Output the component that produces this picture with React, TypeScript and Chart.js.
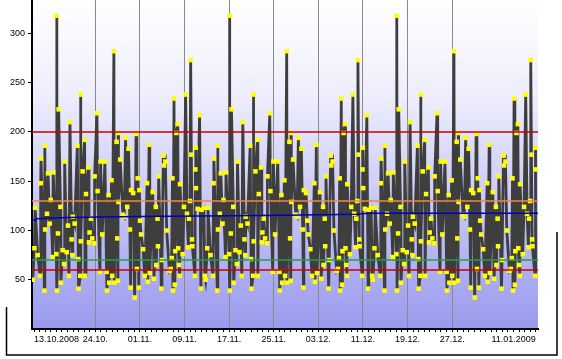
import { useEffect, useRef } from 'react';
import { Chart, registerables } from 'chart.js';

Chart.register(...registerables);

// Values repeat by day of month; each entry: fractional day of month -> value
const patternDays = [
  1.03, 1.21, 1.57, 1.87, 2.28, 2.4, 2.64, 2.76, 3.3, 3.53, 3.85, 3.93, 4.15, 4.23, 4.37, 4.85, 4.95,
  5.2, 5.32, 5.56, 5.8, 6.28, 6.52, 6.7, 6.83, 6.92, 7.11, 7.25, 7.33, 7.53, 7.79, 7.87, 8.01, 8.13,
  8.19, 8.66, 8.9, 9.2, 9.44, 9.68, 9.8, 9.98, 10.1, 10.22, 10.34, 10.4, 10.87, 10.93, 10.99, 11.05,
  11.35, 11.7, 11.93, 12.05, 12.47, 12.65, 12.77, 13.07, 13.2, 13.66, 14.1, 14.2, 14.26, 14.88, 14.94,
  15.0, 15.33, 15.51, 15.81, 15.99, 16.35, 16.44, 17.0, 17.07, 17.12, 17.3, 17.42, 17.74, 17.82, 18.14,
  18.38, 18.5, 18.86, 19.09, 19.27, 19.45, 19.75, 19.9, 19.96, 20.29, 20.77, 20.94, 21.0, 21.3, 21.36,
  21.4, 21.72, 22.08, 22.15, 22.32, 22.74, 22.86, 22.97, 23.21, 23.45, 23.81, 23.87, 24.29, 24.41,
  24.82, 24.94, 25.24, 25.72, 26.02, 26.08, 26.38, 26.5, 26.91, 27.03, 27.33, 27.39, 27.81, 27.93,
  28.05, 28.1, 28.15, 28.46, 28.94, 29.18, 29.42, 29.72, 29.96, 30.2, 30.33, 30.4, 30.79, 31.05, 31.3,
  31.45, 31.6, 31.8, 31.9,
];
const patternValues = [
  110, 96, 81, 54, 148, 48, 187, 57, 139, 51, 124, 65, 112, 84, 155, 41, 70,
  176, 166, 170, 100, 59, 61, 72, 153, 39, 234, 45, 79, 199, 208, 82, 65, 54,
  147, 76, 124, 238, 117, 83, 112, 130, 273, 177, 91, 84, 54, 162, 184, 143,
  122, 217, 41, 121, 123, 54, 50, 82, 123, 75, 54, 148, 173, 39, 186,
  101, 117, 158, 107, 131, 73, 159, 76, 318, 39, 97, 223, 124, 47, 80,
  66, 170, 78, 105, 54, 210, 91, 75, 114, 107, 186, 71, 41, 54, 238,
  89, 160, 192, 54, 137, 164, 88, 98, 112, 92, 87, 155, 219, 140,
  58, 170, 96, 170, 58, 39, 136, 47, 151, 54, 282, 47, 190, 92,
  49, 199, 129, 172, 116, 114, 194, 124, 183, 101, 42, 141, 138, 32, 198,
  61, 153, 42, 141,
];

// Months shown: Oct 2008, Nov 2008, Dec 2008, Jan 2009 (day index 0 = 13.10.2008)
const monthOffsets = [-13, 18, 48, 79];
const monthLengths = [31, 30, 31, 31];

const tickDays = [0, 11, 19, 27, 35, 43, 51, 59, 67, 75, 90];
const tickLabels = ['13.10.2008', '24.10.', '01.11.', '09.11.', '17.11.', '25.11.', '03.12.', '11.12.', '19.12.', '27.12.', '11.01.2009'];
const yTicks = [50, 100, 150, 200, 250, 300];

const trendDays = [-0.36, 0.3, 0.4, 6, 12, 19, 30, 45, 58, 60, 90.4];
const trendValues = [110.5, 110.6, 111.9, 113.3, 113.6, 114.2, 114.8, 115.6, 116.6, 117.5, 117.6];

const upperLimit = 200;
const upperWarn = 130;
const lowerWarn = 70;
const lowerLimit = 60;

const X_MIN = -0.36;
const X_MAX = 90.4;
const Y_MAX = 334;

export default function App() {
  const ref = useRef<HTMLCanvasElement>(null);

  useEffect(() => {
    if (!ref.current) return;
    const series: { x: number; y: number }[] = [];
    for (let m = 0; m < monthOffsets.length; m++) {
      for (let i = 0; i < patternDays.length; i++) {
        const d = patternDays[i];
        if (Math.floor(d) > monthLengths[m]) continue;
        const t = d + monthOffsets[m];
        if (t < -0.3 || t > 90) continue;
        series.push({ x: t, y: patternValues[i] });
      }
    }
    const hline = (v: number) => [{ x: X_MIN, y: v }, { x: X_MAX, y: v }];
    const trend = trendDays.map((d, i) => ({ x: d, y: trendValues[i] }));

    const plugin = {
      id: 'deco',
      beforeDraw(chart: any) {
        const { ctx, chartArea: a } = chart;
        ctx.save();
        ctx.fillStyle = '#ffffff';
        ctx.fillRect(0, 0, chart.width, chart.height);
        const g = ctx.createLinearGradient(0, a.top, 0, a.bottom);
        g.addColorStop(0, '#ffffff');
        g.addColorStop(0.3, '#ededfd');
        g.addColorStop(0.6, '#cacaf7');
        g.addColorStop(0.85, '#ababf2');
        g.addColorStop(1, '#9a9aee');
        ctx.fillStyle = g;
        ctx.fillRect(a.left, a.top, a.right - a.left, a.bottom - a.top);
        ctx.restore();
      },
      afterDraw(chart: any) {
        const { ctx } = chart;
        ctx.save();
        ctx.strokeStyle = '#000';
        ctx.lineWidth = 1.5;
        ctx.beginPath();
        ctx.moveTo(6.5, 307);
        ctx.lineTo(6.5, 355);
        ctx.lineTo(557, 355);
        ctx.lineTo(557, 232);
        ctx.stroke();
        ctx.restore();
      },
    };

    const font = { family: '"Liberation Sans", Arial, sans-serif', size: 9 };

    const chart = new Chart(ref.current, {
      type: 'line',
      data: {
        datasets: [
          { data: hline(upperLimit), borderColor: '#c80000', borderWidth: 1.5, pointRadius: 0 },
          { data: hline(upperWarn), borderColor: '#f0883a', borderWidth: 1.5, pointRadius: 0 },
          { data: trend, borderColor: '#0000b8', borderWidth: 1.5, pointRadius: 0 },
          { data: hline(lowerWarn), borderColor: '#20a040', borderWidth: 1.5, pointRadius: 0 },
          { data: hline(lowerLimit), borderColor: '#c80000', borderWidth: 1.5, pointRadius: 0 },
          {
            data: series,
            borderColor: '#3e3e3e',
            borderWidth: 2.8,
            pointStyle: 'rect',
            pointRadius: 3.2,
            pointBackgroundColor: '#ffff00',
            pointBorderColor: '#ffff00',
            pointBorderWidth: 0,
          },
        ] as any,
      },
      options: {
        animation: false,
        responsive: false,
        devicePixelRatio: 1,
        layout: { padding: { top: 0, right: 24, bottom: 0, left: 0 }, autoPadding: false } as any,
        plugins: { legend: { display: false }, tooltip: { enabled: false } },
        scales: {
          x: {
            type: 'linear',
            min: X_MIN,
            max: X_MAX,
            afterBuildTicks: (axis: any) => {
              const ts = [];
              for (let d = 0; d <= 90; d++) ts.push({ value: d });
              axis.ticks = ts;
            },
            afterFit: (s: any) => {
              s.height = 30;
              s.paddingLeft = 0;
              s.paddingRight = 0;
            },
            border: { display: true, color: '#000', width: 2 },
            grid: {
              drawOnChartArea: true,
              drawTicks: true,
              tickLength: 3,
              tickColor: '#000',
              lineWidth: 1,
              color: (c: any) => {
                const v = c.tick ? c.tick.value : -1;
                return tickDays.includes(v) && v !== 0 && v !== 90 ? '#8a8a8a' : 'rgba(0,0,0,0)';
              },
            },
            ticks: {
              autoSkip: false,
              maxRotation: 0,
              minRotation: 0,
              align: 'inner',
              padding: 2,
              color: '#000',
              font,
              callback: (v: any) => {
                const i = tickDays.indexOf(Number(v));
                return i >= 0 ? tickLabels[i] : '';
              },
            },
          },
          y: {
            type: 'linear',
            min: 0,
            max: Y_MAX,
            afterBuildTicks: (axis: any) => {
              axis.ticks = yTicks.map((v) => ({ value: v }));
            },
            afterFit: (s: any) => {
              s.width = 32;
              s.paddingTop = 0;
              s.paddingBottom = 0;
            },
            border: { display: true, color: '#000', width: 2 },
            grid: { drawOnChartArea: false, drawTicks: true, tickLength: 4, tickColor: '#000' },
            ticks: { padding: 3, color: '#000', font },
          },
        },
      } as any,
      plugins: [plugin],
    });
    return () => chart.destroy();
  }, []);

  return (
    <div style={{ position: 'absolute', left: 0, top: 0, width: 562, height: 359, background: '#fff' }}>
      <canvas ref={ref} width={562} height={359} style={{ display: 'block', width: 562, height: 359 }} />
    </div>
  );
}
